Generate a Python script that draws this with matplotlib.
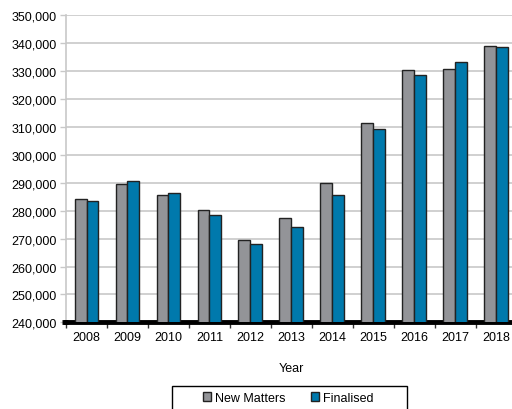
import matplotlib
matplotlib.use("Agg")
import matplotlib.pyplot as plt
import numpy as np
from matplotlib.ticker import FuncFormatter, FixedLocator
from matplotlib.patches import Patch, Rectangle

plt.rcParams['font.family'] = ['Liberation Sans', 'DejaVu Sans']

years = ["2008", "2009", "2010", "2011", "2012", "2013", "2014", "2015", "2016", "2017", "2018"]
new_matters = [284100, 289300, 285500, 280300, 269500, 277200, 289700, 311200, 330200, 330600, 338700]
finalised = [283400, 290700, 286400, 278400, 268000, 274000, 285600, 309300, 328500, 333200, 338300]

fig = plt.figure(figsize=(5.12, 4.10), dpi=100)
ax = fig.add_axes([0.129, 0.211, 0.880, 0.751])

x = np.arange(len(years))
w = 0.29
ax.bar(x - w/2, new_matters, width=w, color="#939498", edgecolor="#222222", linewidth=1.0, zorder=3)
ax.bar(x + w/2, finalised, width=w, color="#0079AC", edgecolor="#222222", linewidth=1.0, zorder=3)

ax.set_xlim(-0.5, len(years) - 0.5)
ax.set_ylim(240000, 350000)
ax.set_yticks(np.arange(240000, 350001, 10000))
ax.yaxis.set_major_formatter(FuncFormatter(lambda v, p: f"{int(v):,}"))
ax.grid(axis="y", color="#C8C8C8", linewidth=1.2, zorder=0)
ax.set_axisbelow(True)

ax.set_xticks(x)
ax.set_xticklabels(years)
ax.tick_params(axis="x", length=0, pad=6, labelsize=9, colors="black")
ax.xaxis.set_minor_locator(FixedLocator(np.arange(-0.5, len(years), 1)))
ax.tick_params(axis="x", which="minor", length=4, width=1, color="#333333")
ax.tick_params(axis="y", length=4, width=1, color="#C8C8C8", labelsize=9, pad=3)

for s in ["top", "right"]:
    ax.spines[s].set_visible(False)
ax.spines["left"].set_color("#C8C8C8")
ax.spines["left"].set_linewidth(1.2)
ax.spines["bottom"].set_color("black")
ax.spines["bottom"].set_linewidth(3.5)
ax.plot([-0.6, -0.45], [240000, 240000], color="black", linewidth=3.5,
        solid_capstyle="butt", clip_on=False, zorder=5)

ax.set_xlabel("Year", fontsize=9, labelpad=14)

handles = [Patch(facecolor="#939498", edgecolor="#222222", label="New Matters"),
           Patch(facecolor="#0079AC", edgecolor="#222222", label="Finalised")]
leg = fig.legend(handles=handles, loc="center", bbox_to_anchor=(0.5625, 0.027),
                 ncol=2, frameon=False, fontsize=9,
                 handlelength=0.65, handleheight=0.65, handletextpad=0.35, columnspacing=2.0,
                 borderpad=0.0)
fig.patches.append(Rectangle((0.3354, -0.02), 0.459, 0.0754, transform=fig.transFigure,
                             facecolor="none", edgecolor="black", linewidth=1.0))

fig.savefig("out.png", dpi=100)
